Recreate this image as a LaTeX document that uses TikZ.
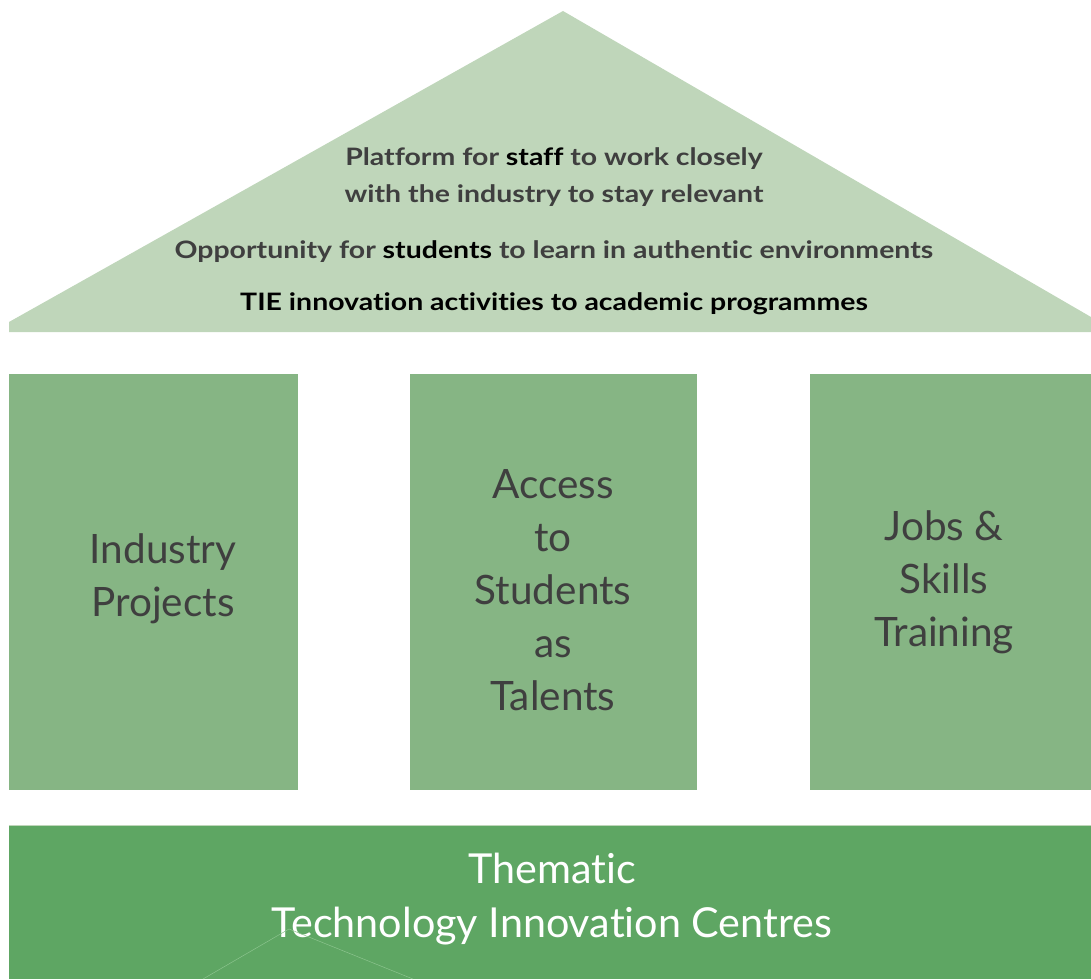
\documentclass[tikz,border=0pt]{standalone}
\usepackage{fontspec}
\setmainfont{Lato}[Ligatures={NoCommon}]
\definecolor{roofc}{HTML}{BFD6BA}
\definecolor{pillarc}{HTML}{86B584}
\definecolor{basec}{HTML}{5EA663}
\definecolor{txtgray}{HTML}{3F3F3F}
\definecolor{faint}{HTML}{8CC48E}
\newcommand{\wide}[1]{\scalebox{1.185}[1]{#1}}
\tikzset{
  pillar/.style={fill=pillarc, draw=none, inner sep=0pt},
  pillartext/.style={align=center, anchor=base, text=txtgray, font=\fontsize{40.5}{53}\selectfont, inner sep=0pt},
  rooftext/.style={anchor=base, text=txtgray, font=\fontsize{24}{37}\selectfont\bfseries, inner sep=0pt},
  basetext/.style={align=center, anchor=base, text=white, font=\fontsize{41.3}{54}\selectfont, inner sep=0pt},
}
\begin{document}
\begin{tikzpicture}[x=1pt,y=-1pt]
\useasboundingbox (0,0) rectangle (1091,979);
% roof
\fill[roofc] (9,332) -- (9,322) -- (563,11) -- (1091,317) -- (1091,332) -- cycle;
\node[rooftext] (r1) at (554,165) {\wide{Platform for \textcolor{black}{staff} to work closely}};
\node[rooftext] (r1b) at (554,202) {\wide{with the industry to stay relevant}};
\node[rooftext] (r2) at (554,258) {\wide{Opportunity for \textcolor{black}{students} to learn in authentic environments}};
\node[rooftext, text=black] (r3) at (554,310) {\wide{TIE innovation activities to academic programmes}};
% pillars
\node[pillar, minimum width=289pt, minimum height=416pt] (p1) at (153.5,582) {};
\node[pillar, minimum width=287pt, minimum height=416pt] (p2) at (553.5,582) {};
\node[pillar, minimum width=281pt, minimum height=416pt] (p3) at (950.5,582) {};
\node[pillartext] (t1) at (163,616) {Industry\\Projects};
\node[pillartext] (t2) at (553,710) {Access\\to\\Students\\as\\Talents};
\node[pillartext] (t3) at (944,646) {Jobs \&\\Skills\\Training};
% base
\node[fill=basec, draw=none, inner sep=0pt, minimum width=1082pt, minimum height=153pt] (base) at (550,902.5) {};
\draw[roofc, line width=1pt] (base.north west) -- (base.north east);
\node[basetext] (bt) at (552,937) {Thematic\\Technology Innovation Centres};
% faint lines
\coordinate (f1) at (203,979);
\coordinate (f2) at (289,929);
\coordinate (f3) at (413,979);
\draw[faint, line width=0.5pt] (f1) -- (f2) -- (f3);
\end{tikzpicture}
\end{document}
